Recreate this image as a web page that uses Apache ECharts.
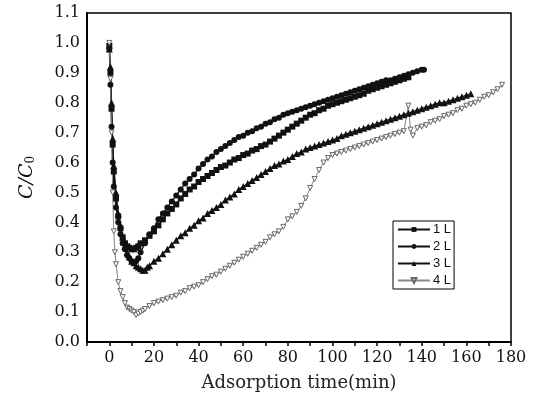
<!DOCTYPE html>
<html>
<head>
<meta charset="utf-8">
<script src="https://cdn.jsdelivr.net/npm/echarts@6/dist/echarts.min.js"></script>
<style>html,body{margin:0;padding:0;background:#fff}#c{width:533px;height:400px}</style>
</head>
<body>
<div id="c"></div>
<script>
var seriesNames = ['1 L', '2 L', '3 L', '4 L'];
var xTicks = [0, 20, 40, 60, 80, 100, 120, 140, 160, 180];
var yTicks = ['0.0','0.1','0.2','0.3','0.4','0.5','0.6','0.7','0.8','0.9','1.0','1.1'];

var t1 = [0,0.5,1,1.5,2,3,4,5,6,7,8,9,10,11,12,13,14,16,18,20,22,24,26,28,30,32,34,36,38,40,42,44,46,48,50,52,54,56,58,60,62,64,66,68,70,72,74,76,78,80,82,84,86,88,90,92,94,96,98,100,102,104,106,108,110,112,114,116,118,120,122,124,126,128,130,132,134];
var v1 = [0.99,0.90,0.78,0.66,0.57,0.48,0.42,0.38,0.35,0.33,0.32,0.315,0.31,0.31,0.315,0.32,0.33,0.34,0.355,0.37,0.39,0.41,0.43,0.445,0.46,0.48,0.495,0.51,0.52,0.535,0.545,0.555,0.565,0.575,0.585,0.59,0.60,0.61,0.615,0.625,0.63,0.64,0.645,0.655,0.66,0.67,0.68,0.69,0.70,0.71,0.72,0.73,0.74,0.75,0.76,0.765,0.775,0.78,0.79,0.795,0.80,0.805,0.81,0.815,0.82,0.825,0.83,0.84,0.845,0.85,0.855,0.86,0.865,0.87,0.875,0.88,0.885];

var t2 = [0,0.5,1,1.5,2,3,4,5,6,7,8,9,10,11,12,13,14,16,18,20,22,24,26,28,30,32,34,36,38,40,42,44,46,48,50,52,54,56,58,60,62,64,66,68,70,72,74,76,78,80,82,84,86,88,90,92,94,96,98,100,102,104,106,108,110,112,114,116,118,120,122,124,126,128,130,132,134,136,138,140,141];
var v2 = [0.98,0.86,0.72,0.60,0.52,0.45,0.40,0.36,0.33,0.31,0.29,0.28,0.27,0.265,0.27,0.28,0.30,0.33,0.36,0.38,0.41,0.43,0.45,0.47,0.49,0.51,0.53,0.545,0.56,0.58,0.595,0.61,0.62,0.635,0.645,0.655,0.665,0.675,0.685,0.69,0.70,0.705,0.715,0.72,0.73,0.735,0.745,0.75,0.76,0.765,0.77,0.775,0.78,0.785,0.79,0.795,0.80,0.805,0.81,0.815,0.82,0.825,0.83,0.835,0.84,0.845,0.85,0.855,0.86,0.865,0.87,0.875,0.875,0.88,0.885,0.89,0.895,0.90,0.905,0.91,0.91];

var t3 = [0,0.5,1,1.5,2,3,4,5,6,7,8,9,10,11,12,13,14,15,16,17,18,20,22,24,26,28,30,32,34,36,38,40,42,44,46,48,50,52,54,56,58,60,62,64,66,68,70,72,74,76,78,80,82,84,86,88,90,92,94,96,98,100,102,104,106,108,110,112,114,116,118,120,122,124,126,128,130,132,134,136,138,140,142,144,146,148,150,152,154,156,158,160,162];
var v3 = [0.98,0.92,0.80,0.68,0.59,0.50,0.43,0.39,0.35,0.32,0.30,0.285,0.27,0.265,0.255,0.25,0.245,0.24,0.24,0.25,0.255,0.27,0.28,0.295,0.31,0.325,0.34,0.355,0.365,0.38,0.39,0.405,0.415,0.43,0.44,0.45,0.46,0.475,0.485,0.495,0.51,0.52,0.53,0.54,0.55,0.56,0.57,0.58,0.59,0.595,0.605,0.61,0.62,0.63,0.635,0.645,0.65,0.655,0.66,0.665,0.67,0.675,0.68,0.69,0.695,0.70,0.705,0.71,0.715,0.72,0.725,0.73,0.735,0.74,0.745,0.75,0.755,0.76,0.765,0.77,0.775,0.78,0.785,0.79,0.795,0.80,0.80,0.805,0.81,0.815,0.82,0.825,0.83];

var t4 = [0,0.5,1,1.5,2,2.5,3,4,5,6,7,8,9,10,11,12,13,14,15,16,18,20,22,24,26,28,30,32,34,36,38,40,42,44,46,48,50,52,54,56,58,60,62,64,66,68,70,72,74,76,78,80,82,84,86,88,90,92,94,96,98,100,102,104,106,108,110,112,114,116,118,120,122,124,126,128,130,132,134,135,136,138,140,142,144,146,148,150,152,154,156,158,160,162,164,166,168,170,172,174,176];
var v4 = [1.0,0.88,0.70,0.50,0.37,0.30,0.26,0.20,0.17,0.15,0.13,0.115,0.11,0.105,0.10,0.09,0.095,0.10,0.105,0.11,0.12,0.13,0.135,0.14,0.145,0.15,0.155,0.165,0.17,0.18,0.185,0.19,0.20,0.21,0.22,0.225,0.235,0.245,0.255,0.265,0.275,0.285,0.295,0.305,0.315,0.325,0.335,0.35,0.36,0.37,0.385,0.41,0.42,0.435,0.455,0.48,0.515,0.545,0.575,0.60,0.615,0.625,0.63,0.635,0.64,0.645,0.65,0.655,0.66,0.665,0.67,0.675,0.68,0.685,0.69,0.695,0.70,0.705,0.79,0.71,0.69,0.715,0.72,0.725,0.735,0.74,0.745,0.755,0.76,0.765,0.775,0.78,0.79,0.795,0.80,0.81,0.82,0.825,0.835,0.845,0.86];

function pairs(t, v) { return t.map(function (x, i) { return [x, v[i]]; }); }

var serif = '"DejaVu Serif", "Liberation Serif", serif';
var chart = echarts.init(document.getElementById('c'), null, {renderer: 'canvas'});

var common = {type: 'line', showSymbol: true, animation: false, lineStyle: {width: 1.3}};
chart.setOption({
  backgroundColor: '#fff',
  animation: false,
  grid: {left: 87, right: 22, top: 13, bottom: 58, show: true, borderColor: '#000', borderWidth: 1.5, backgroundColor: 'transparent'},
  legend: {
    left: 393, top: 221, orient: 'vertical', itemWidth: 32, itemHeight: 6, itemGap: 4,
    borderColor: '#000', borderWidth: 1, padding: [2, 3, 2, 4], borderRadius: 0,
    textStyle: {fontFamily: '"Liberation Sans", Arial, sans-serif', fontSize: 13, color: '#111', padding: [0, 0, 0, -2]},
    data: seriesNames
  },
  xAxis: {
    type: 'value', min: -10, max: 180, interval: 10,
    name: 'Adsorption time(min)', nameLocation: 'middle', nameGap: 32,
    nameTextStyle: {fontFamily: serif, fontSize: 18, fontWeight: 'normal', color: '#222'},
    axisLine: {show: true, onZero: false, lineStyle: {color: '#000', width: 2}},
    axisTick: {show: true, inside: false, length: 4, lineStyle: {color: '#000', width: 1.5}},
    splitLine: {show: false},
    axisLabel: {
      fontFamily: serif, fontSize: 16, color: '#111', margin: 8,
      formatter: function (v) { return xTicks.indexOf(v) >= 0 ? String(v) : ''; }
    }
  },
  yAxis: {
    type: 'value', min: 0, max: 1.1, interval: 0.1,
    name: '{i|C}{i|/}{i|C}{s|0}', nameLocation: 'middle', nameGap: 50, nameRotate: 90,
    nameTextStyle: {
      rich: {
        i: {fontFamily: serif, fontStyle: 'italic', fontSize: 19, color: '#111'},
        s: {fontFamily: serif, fontSize: 12, color: '#111', verticalAlign: 'bottom', padding: [8, 0, 0, 0]}
      }
    },
    axisLine: {show: true, onZero: false, lineStyle: {color: '#000', width: 2}},
    axisTick: {show: false},
    splitLine: {show: false},
    axisLabel: {
      fontFamily: serif, fontSize: 16, color: '#111', margin: 7,
      formatter: function (v) { return yTicks[Math.round(v * 10)] || ''; }
    }
  },
  series: [
    Object.assign({}, common, {name: seriesNames[0], symbol: 'rect', symbolSize: 6, color: '#111', data: pairs(t1, v1)}),
    Object.assign({}, common, {name: seriesNames[1], symbol: 'circle', symbolSize: 6, color: '#111', data: pairs(t2, v2)}),
    Object.assign({}, common, {name: seriesNames[2], symbol: 'triangle', symbolSize: 7, color: '#111', data: pairs(t3, v3)}),
    Object.assign({}, common, {name: seriesNames[3], symbol: 'triangle', symbolRotate: 180, symbolSize: 5, color: '#888',
      itemStyle: {color: '#fff', borderColor: '#666', borderWidth: 1}, lineStyle: {width: 1, color: '#888'}, data: pairs(t4, v4)})
  ]
});
</script>
</body>
</html>
